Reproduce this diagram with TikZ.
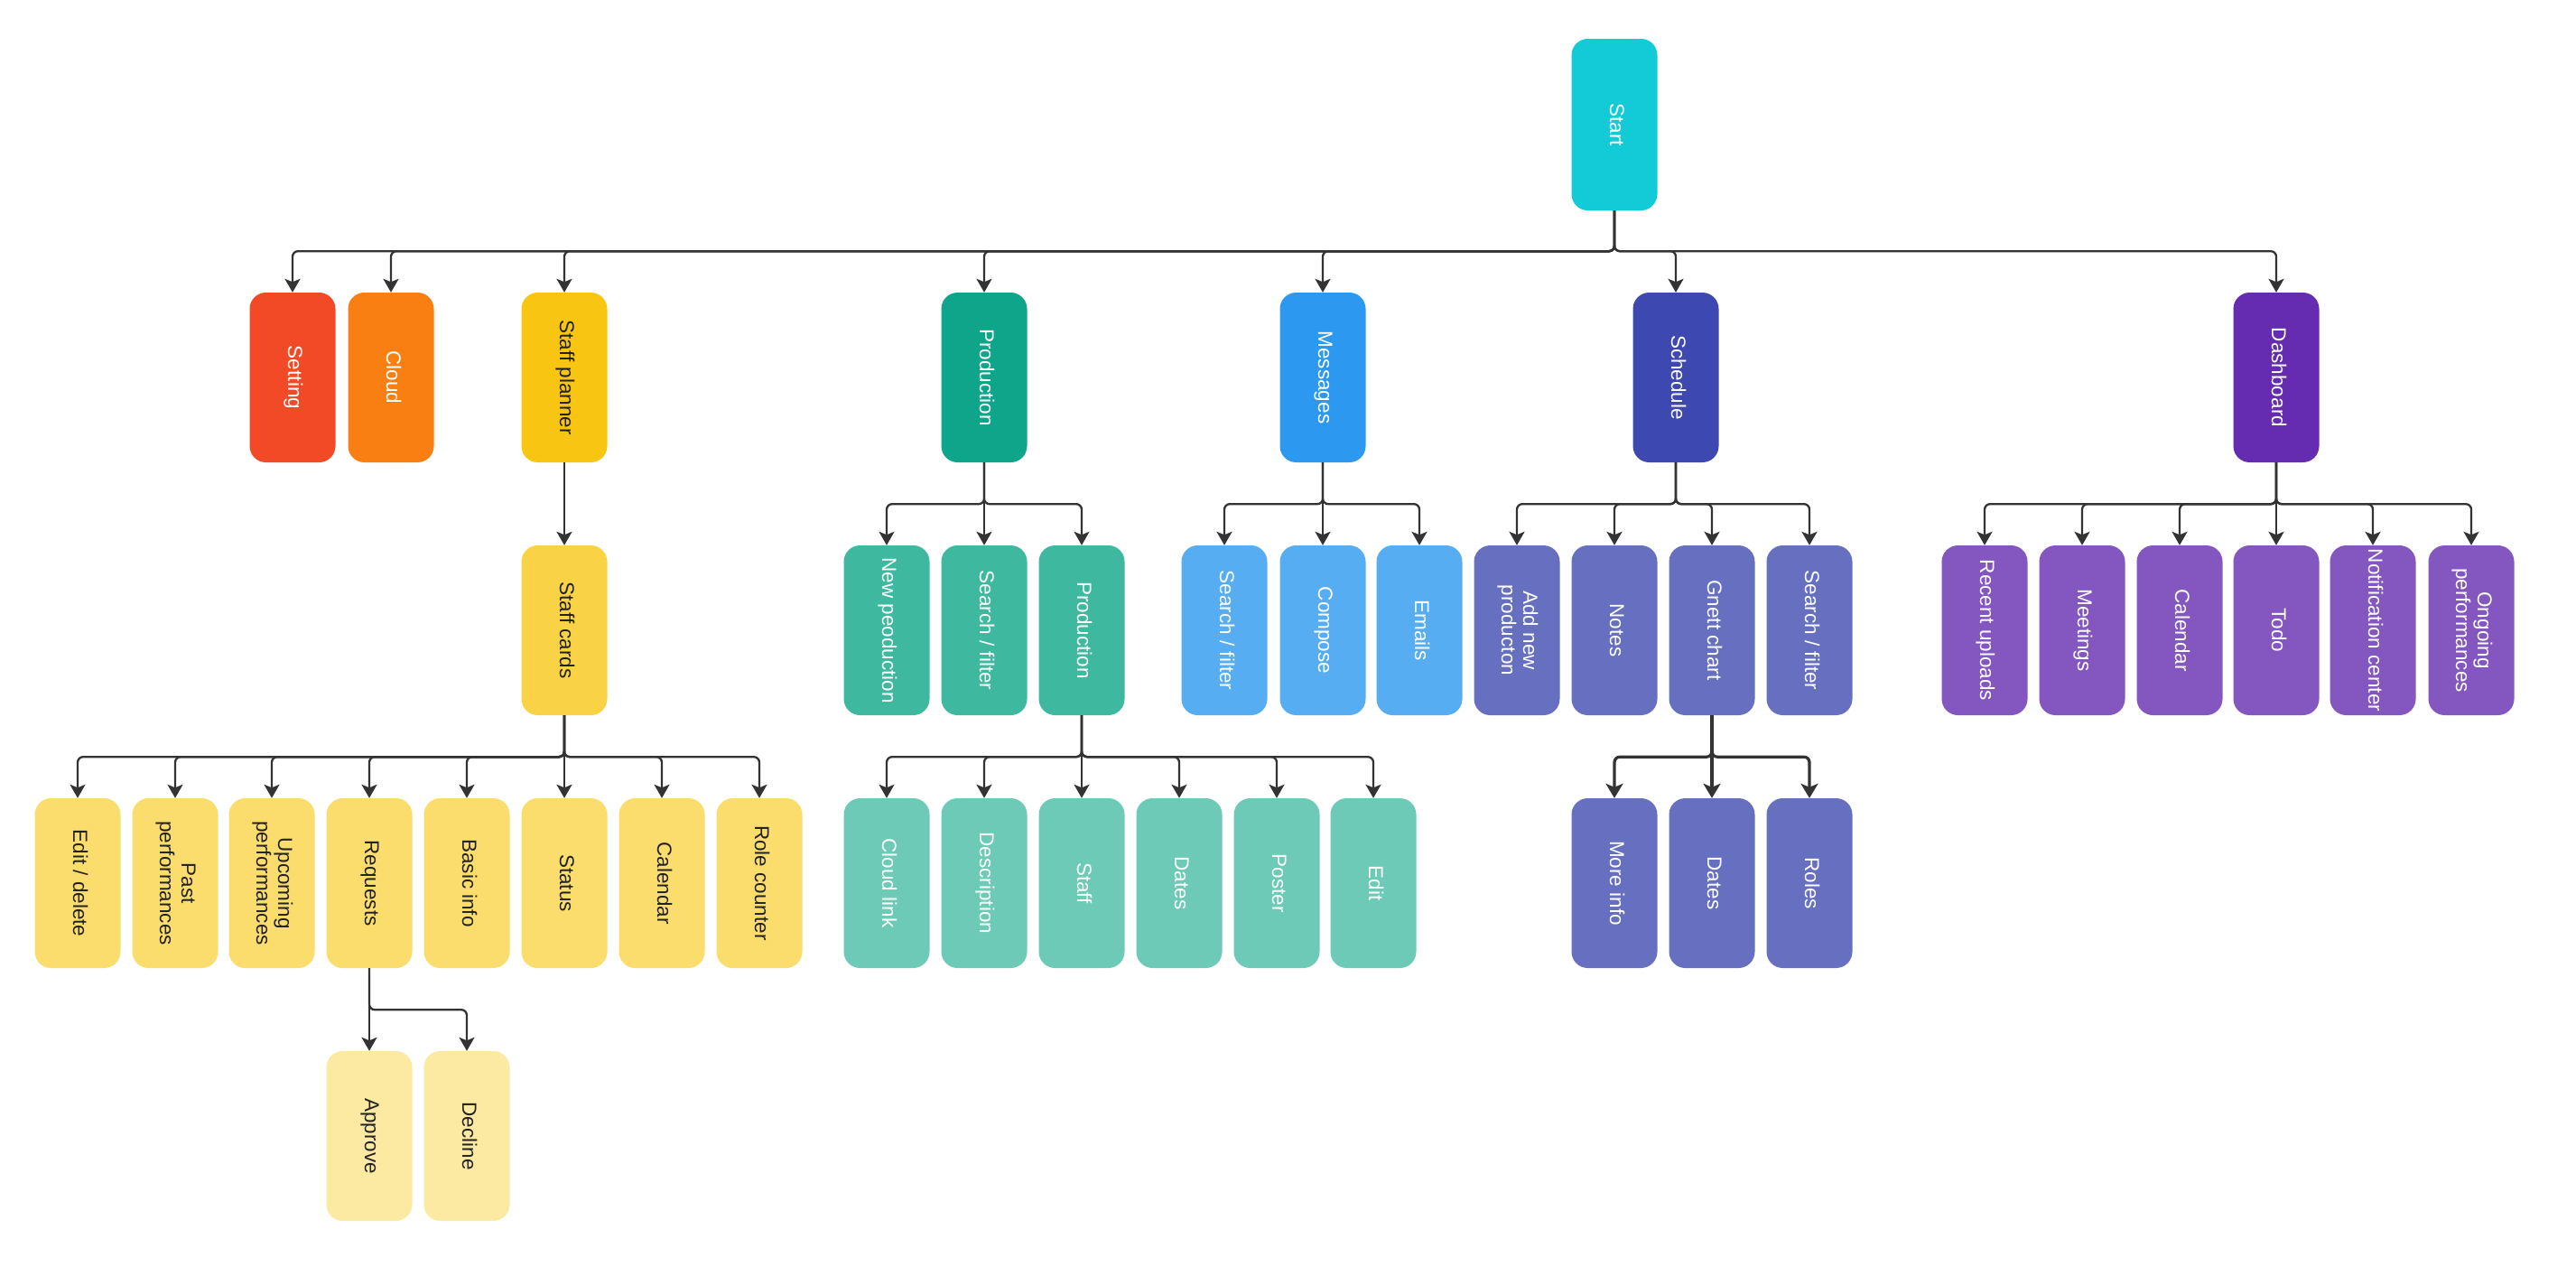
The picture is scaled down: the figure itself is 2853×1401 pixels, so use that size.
\documentclass[tikz,border=0pt]{standalone}
\usepackage{fontspec}
\setmainfont{Liberation Sans}
\usetikzlibrary{arrows.meta}
\definecolor{cStart}{RGB}{18,203,214}
\definecolor{cSet}{RGB}{242,74,38}
\definecolor{cCloud}{RGB}{249,127,18}
\definecolor{cSP}{RGB}{248,197,19}
\definecolor{cSC}{RGB}{249,210,70}
\definecolor{cSCc}{RGB}{251,221,110}
\definecolor{cAD}{RGB}{252,233,162}
\definecolor{cProd}{RGB}{14,165,138}
\definecolor{cProdc}{RGB}{62,185,160}
\definecolor{cProdg}{RGB}{109,202,182}
\definecolor{cMsg}{RGB}{44,152,239}
\definecolor{cMsgc}{RGB}{86,173,242}
\definecolor{cSch}{RGB}{61,73,176}
\definecolor{cSchc}{RGB}{103,112,192}
\definecolor{cDash}{RGB}{101,43,176}
\definecolor{cDashc}{RGB}{132,86,192}
\definecolor{cLine}{RGB}{51,51,51}
\definecolor{cDark}{RGB}{34,34,34}
\newcommand{\vt}[1]{\rotatebox{-90}{\begin{tabular}{@{}c@{}}#1\end{tabular}}}
\begin{document}
\begin{tikzpicture}[x=1pt,y=-1pt,
  box/.style={rounded corners=18pt, minimum width=95pt, minimum height=188pt, inner sep=0pt,
    font=\fontsize{22.5}{24}\selectfont, text=white, fill=#1},
  dbox/.style={box=#1, text=cDark},
  conn/.style={draw=cLine, line width=2.3pt, rounded corners=6pt, -{Stealth[length=15pt,width=17pt,inset=3.5pt]}},
  thickconn/.style={conn, line width=3.2pt, -{Stealth[length=16pt,width=19pt,inset=4pt]}}]
\useasboundingbox (0,0) rectangle (2853,1401);
\def\ra{138}\def\rb{418}\def\rc{698}\def\rd{978}\def\re{1258}
% row 0
\node[box=cStart, minimum height=190pt] (start) at (1788,\ra) {\vt{Start}};
% row 1
\node[box=cSet] (setting) at (324,\rb) {\vt{Setting}};
\node[box=cCloud] (cloud) at (433,\rb) {\vt{Cloud}};
\node[dbox=cSP] (splanner) at (625,\rb) {\vt{Staff planner}};
\node[box=cProd] (prod) at (1090,\rb) {\vt{Production}};
\node[box=cMsg] (msg) at (1465,\rb) {\vt{Messages}};
\node[box=cSch] (sched) at (1856,\rb) {\vt{Schedule}};
\node[box=cDash] (dash) at (2521,\rb) {\vt{Dashboard}};
% row 2
\node[dbox=cSC] (scards) at (625,\rc) {\vt{Staff cards}};
\node[box=cProdc] (newprod) at (982,\rc) {\vt{New peoduction}};
\node[box=cProdc] (psearch) at (1090,\rc) {\vt{Search / filter}};
\node[box=cProdc] (pprod) at (1198,\rc) {\vt{Production}};
\node[box=cMsgc] (msearch) at (1356,\rc) {\vt{Search / filter}};
\node[box=cMsgc] (compose) at (1465,\rc) {\vt{Compose}};
\node[box=cMsgc] (emails) at (1572,\rc) {\vt{Emails}};
\node[box=cSchc] (addnew) at (1680,\rc) {\vt{Add new\\producton}};
\node[box=cSchc] (notes) at (1788,\rc) {\vt{Notes}};
\node[box=cSchc] (gnett) at (1896,\rc) {\vt{Gnett chart}};
\node[box=cSchc] (ssearch) at (2004,\rc) {\vt{Search / filter}};
\node[box=cDashc] (recent) at (2198,\rc) {\vt{Recent uploads}};
\node[box=cDashc] (meetings) at (2306,\rc) {\vt{Meetings}};
\node[box=cDashc] (dcal) at (2414,\rc) {\vt{Calendar}};
\node[box=cDashc] (todo) at (2521,\rc) {\vt{Todo}};
\node[box=cDashc] (notif) at (2628,\rc) {\vt{Notification center}};
\node[box=cDashc] (ongoing) at (2737,\rc) {\vt{Ongoing\\performances}};
% row 3
\node[dbox=cSCc] (edit) at (86,\rd) {\vt{Edit / delete}};
\node[dbox=cSCc] (past) at (194,\rd) {\vt{Past\\performances}};
\node[dbox=cSCc] (upcoming) at (301,\rd) {\vt{Upcoming\\performances}};
\node[dbox=cSCc] (requests) at (409,\rd) {\vt{Requests}};
\node[dbox=cSCc] (basic) at (517,\rd) {\vt{Basic info}};
\node[dbox=cSCc] (status) at (625,\rd) {\vt{Status}};
\node[dbox=cSCc] (scal) at (733,\rd) {\vt{Calendar}};
\node[dbox=cSCc] (role) at (841,\rd) {\vt{Role counter}};
\node[box=cProdg] (cloudlink) at (982,\rd) {\vt{Cloud link}};
\node[box=cProdg] (desc) at (1090,\rd) {\vt{Description}};
\node[box=cProdg] (staff) at (1198,\rd) {\vt{Staff}};
\node[box=cProdg] (pdates) at (1306,\rd) {\vt{Dates}};
\node[box=cProdg] (poster) at (1414,\rd) {\vt{Poster}};
\node[box=cProdg] (pedit) at (1521,\rd) {\vt{Edit}};
\node[box=cSchc] (moreinfo) at (1788,\rd) {\vt{More info}};
\node[box=cSchc] (gdates) at (1896,\rd) {\vt{Dates}};
\node[box=cSchc] (roles) at (2004,\rd) {\vt{Roles}};
% row 4
\node[dbox=cAD] (approve) at (409,\re) {\vt{Approve}};
\node[dbox=cAD] (decline) at (517,\re) {\vt{Decline}};
% connectors
\foreach \c in {setting,cloud,splanner,prod,msg,sched,dash}
  \draw[conn] (start.south) -- ++(0,45) -| (\c.north);
\draw[conn] (splanner.south) -- (scards.north);
\foreach \c in {newprod,psearch,pprod}
  \draw[conn] (prod.south) -- ++(0,46) -| (\c.north);
\foreach \c in {msearch,compose,emails}
  \draw[conn] (msg.south) -- ++(0,46) -| (\c.north);
\foreach \c in {addnew,notes,gnett,ssearch}
  \draw[conn] (sched.south) -- ++(0,46) -| (\c.north);
\foreach \c in {recent,meetings,dcal,todo,notif,ongoing}
  \draw[conn] (dash.south) -- ++(0,46) -| (\c.north);
\foreach \c in {edit,past,upcoming,requests,basic,status,scal,role}
  \draw[conn] (scards.south) -- ++(0,46) -| (\c.north);
\foreach \c in {cloudlink,desc,staff,pdates,poster,pedit}
  \draw[conn] (pprod.south) -- ++(0,46) -| (\c.north);
\foreach \c in {moreinfo,gdates,roles}
  \draw[thickconn] (gnett.south) -- ++(0,46) -| (\c.north);
\foreach \c in {approve,decline}
  \draw[conn] (requests.south) -- ++(0,46) -| (\c.north);
\end{tikzpicture}
\end{document}
